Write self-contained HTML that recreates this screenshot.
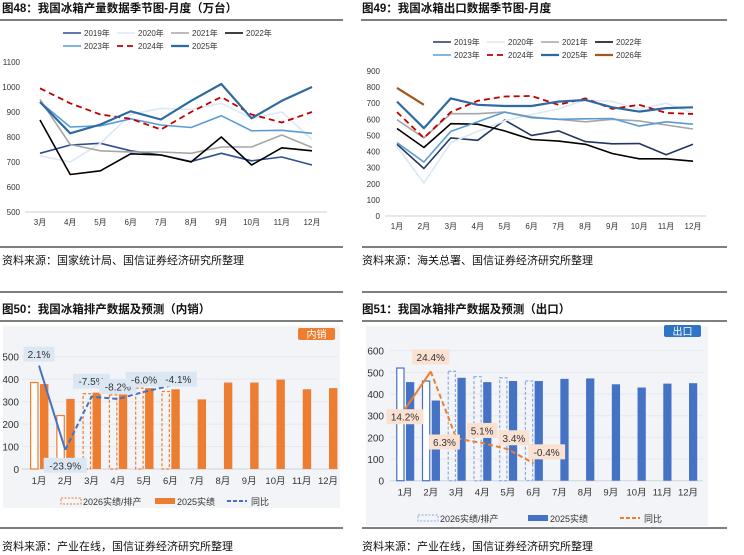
<!DOCTYPE html>
<html><head><meta charset="utf-8"><style>
html,body{margin:0;padding:0;background:#fff;}
svg{display:block;font-family:"Liberation Sans","Noto Sans CJK SC",sans-serif;}
</style></head><body>
<svg id="root" width="744" height="555" viewBox="0 0 744 555" xmlns="http://www.w3.org/2000/svg">
<g>
<text x="2" y="12" font-size="11.5" font-weight="bold" fill="#111">图48：我国冰箱产量数据季节图-月度（万台）</text>
<line x1="0" y1="20" x2="343" y2="20" stroke="#333" stroke-width="1.2"/>
</g>
<g>
<text x="362" y="12" font-size="11.5" font-weight="bold" fill="#111">图49：我国冰箱出口数据季节图-月度</text>
<line x1="361" y1="20" x2="727" y2="20" stroke="#333" stroke-width="1.2"/>
</g>
<line x1="0" y1="247" x2="343" y2="247" stroke="#333" stroke-width="1.2"/>
<line x1="362" y1="247" x2="727" y2="247" stroke="#333" stroke-width="1.2"/>
<text x="2" y="264" font-size="11" fill="#111">资料来源：国家统计局、国信证券经济研究所整理</text>
<text x="362" y="264" font-size="11" fill="#111">资料来源：海关总署、国信证券经济研究所整理</text>
<line x1="0" y1="292" x2="343" y2="292" stroke="#333" stroke-width="1.2"/>
<line x1="362" y1="292" x2="727" y2="292" stroke="#333" stroke-width="1.2"/>
<text x="2" y="313" font-size="11.5" font-weight="bold" fill="#111">图50：我国冰箱排产数据及预测（内销）</text>
<text x="362" y="313" font-size="11.5" font-weight="bold" fill="#111">图51：我国冰箱排产数据及预测（出口）</text>
<line x1="0" y1="321" x2="343" y2="321" stroke="#333" stroke-width="1.2"/>
<line x1="362" y1="321" x2="727" y2="321" stroke="#333" stroke-width="1.2"/>
<rect x="3" y="326" width="337" height="182" fill="#f2f4f8"/>
<rect x="366" y="326" width="342" height="200" fill="#f2f4f8"/>
<line x1="0" y1="528" x2="343" y2="528" stroke="#333" stroke-width="1.2"/>
<line x1="362" y1="528" x2="727" y2="528" stroke="#333" stroke-width="1.2"/>
<text x="2" y="550" font-size="11" fill="#111">资料来源：产业在线，国信证券经济研究所整理</text>
<text x="362" y="550" font-size="11" fill="#111">资料来源：产业在线，国信证券经济研究所整理</text>
<g id="c48"></g>
<g id="c49"></g>
<g id="c50"></g>
<g id="c51"></g>
</svg>
<script>
// ---- chart 48 data ----
const months48 = ["3月","4月","5月","6月","7月","8月","9月","10月","11月","12月"];
const ticks48 = [500,600,700,800,900,1000,1100];
const s48_2019 = [735,768,775,745,728,702,735,705,720,688];
const s48_2020 = [725,700,775,890,915,910,935,875,900,790];
const s48_2021 = [950,770,745,740,740,735,760,760,808,758];
const s48_2022 = [868,650,665,733,728,700,800,688,757,745];
const s48_2023 = [940,840,845,873,848,838,885,825,827,815];
const s48_2024 = [995,935,890,873,830,900,960,890,858,900];
const s48_2025 = [940,815,850,903,870,945,1012,875,945,1000];
// ---- chart 49 data ----
const months49 = ["1月","2月","3月","4月","5月","6月","7月","8月","9月","10月","11月","12月"];
const ticks49 = [0,100,200,300,400,500,600,700,800,900];
const s49_2019 = [445,295,485,470,595,500,528,462,448,450,380,445];
const s49_2020 = [430,205,455,525,590,630,665,720,710,665,700,640];
const s49_2021 = [598,485,635,635,645,615,600,585,600,590,565,540];
const s49_2022 = [543,425,573,570,528,475,465,445,388,355,355,340];
const s49_2023 = [455,335,525,585,645,610,600,603,605,558,585,570];
const s49_2024 = [645,485,645,715,742,745,690,730,665,690,640,633];
const s49_2025 = [710,545,730,690,683,683,710,720,675,648,670,675];
const s49_2026 = [795,690];
// ---- chart 50 data ----
const months50 = months49;
const ticks50 = [0,100,200,300,400,500];
const plan50 = [385,238,335,330,360,345];
const actual50 = [378,312,340,332,360,355,310,385,385,398,355,360];
const yoy50 = [2.1,-23.9,-7.5,-8.2,-6.0,-4.1];
// ---- chart 51 data ----
const ticks51 = [0,100,200,300,400,500,600];
const plan51 = [520,460,505,480,475,460];
const actual51 = [455,370,475,455,460,460,470,472,445,430,448,450];
const yoy51 = [14.2,24.4,6.3,5.1,3.4,-0.4];

const NS="http://www.w3.org/2000/svg";
function mk(parent,tag,attrs,text){const e=document.createElementNS(NS,tag);for(const k in attrs)e.setAttribute(k,attrs[k]);if(text!==undefined)e.textContent=text;parent.appendChild(e);return e;}

function lineChart(g,cfg){
  const {x0,x1,yTop,yBot,vmin,vmax,cats,ticks,series,legend}=cfg;
  const X=i=>x0+(x1-x0)*i/(cats.length-1);
  const Y=v=>yBot-(v-vmin)/(vmax-vmin)*(yBot-yTop);
  ticks.forEach(t=>{const e=mk(g,'text',{x:cfg.yLabX,y:Y(t)+3,'font-size':8,fill:'#333','text-anchor':'end'},t);
    
    });
  const ax=mk(g,'line',{x1:cfg.axL,x2:cfg.axR,y1:yBot,y2:yBot,stroke:'#d0d0d0'});
  
  
  cats.forEach((c,i)=>{const e=mk(g,'text',{x:X(i),y:yBot+13,'font-size':8,fill:'#333','text-anchor':'middle'},c);
    
    });
  series.forEach(s=>{
    const pts=s.data.map((v,i)=>X(i).toFixed(1)+','+Y(v).toFixed(1)).join(' ');
    const p=mk(g,'polyline',{points:pts,fill:'none',stroke:s.color,'stroke-width':s.w,'stroke-dasharray':s.dash||'none','stroke-linejoin':'round'});
    
    
  });
  series.forEach((s,i)=>{
    const pos=legend[i];
    const lg=mk(g,'g',{});
    
    
    mk(lg,'line',{x1:pos[0],x2:pos[0]+18,y1:pos[1],y2:pos[1],stroke:s.color,'stroke-width':s.w,'stroke-dasharray':s.dash||'none'});
    mk(lg,'text',{x:pos[0]+21,y:pos[1]+3,'font-size':8,fill:'#333'},s.label);
  });
}
lineChart(document.getElementById('c48'),{x0:40,x1:312,yTop:62,yBot:212,vmin:500,vmax:1100,cats:months48,ticks:ticks48,yLabX:20,axL:25,axR:327,
 series:[
  {name:'2019',label:'2019年',data:s48_2019,color:'#2e4f8f',w:1.6},
  {name:'2020',label:'2020年',data:s48_2020,color:'#dce8f5',w:1.6},
  {name:'2021',label:'2021年',data:s48_2021,color:'#a6a6a6',w:1.6},
  {name:'2022',label:'2022年',data:s48_2022,color:'#000',w:1.6},
  {name:'2023',label:'2023年',data:s48_2023,color:'#5b9bd5',w:1.6},
  {name:'2024',label:'2024年',data:s48_2024,color:'#c00000',w:1.8,dash:'6,4'},
  {name:'2025',label:'2025年',data:s48_2025,color:'#2e6aa1',w:2.2}],
 legend:[[63,33],[117,33],[171,33],[225,33],[63,46],[117,46],[171,46]]});
lineChart(document.getElementById('c49'),{x0:397,x1:693,yTop:71,yBot:216,vmin:0,vmax:900,cats:months49,ticks:ticks49,yLabX:380,axL:385,axR:706,
 series:[
  {name:'2019',label:'2019年',data:s49_2019,color:'#22385f',w:1.6},
  {name:'2020',label:'2020年',data:s49_2020,color:'#dce8f5',w:1.6},
  {name:'2021',label:'2021年',data:s49_2021,color:'#a6a6a6',w:1.6},
  {name:'2022',label:'2022年',data:s49_2022,color:'#000',w:1.6},
  {name:'2023',label:'2023年',data:s49_2023,color:'#5b9bd5',w:1.6},
  {name:'2024',label:'2024年',data:s49_2024,color:'#c00000',w:1.8,dash:'6,4'},
  {name:'2025',label:'2025年',data:s49_2025,color:'#2e6aa1',w:2.2},
  {name:'2026',label:'2026年',data:s49_2026,color:'#a0581e',w:2.2}],
 legend:[[433,42],[487,42],[541,42],[595,42],[433,55],[487,55],[541,55],[595,55]]});

function barChart(g,cfg){
  const {x0,x1,yTop,yBot,vmax,ticks,plan,actual,yoy,yoyY,main,lab,yoyColor,tag,tagColor}=cfg;
  const step=(x1-x0)/(months50.length-1);
  const X=i=>x0+step*i;
  const Y=v=>yBot-v/vmax*(yBot-yTop);
  ticks.forEach(t=>{
    const gl=mk(g,'line',{x1:cfg.axL,x2:cfg.axR,y1:Y(t),y2:Y(t),stroke:t?'#e6e8ee':'#cfd3dc'});
    
    
    const e=mk(g,'text',{x:cfg.yLabX,y:Y(t)+4,'font-size':10,fill:'#333','text-anchor':'end'},t);
    
    });
  const bw=step*0.32;
  actual.forEach((v,i)=>{const r=mk(g,'rect',{x:X(i)+1,y:Y(v),width:bw,height:yBot-Y(v),fill:main});
    
    });
  plan.forEach((v,i)=>{const r=mk(g,'rect',{x:X(i)-bw,y:Y(v),width:bw-1,height:yBot-Y(v),fill:'#fff','fill-opacity':i<2?1:0,stroke:i<2?main:lab.dashStroke,'stroke-width':1.2,'stroke-dasharray':i<2?'none':'3,2'});
    
    });
  months50.forEach((c,i)=>{const e=mk(g,'text',{x:X(i),y:yBot+15,'font-size':9.5,fill:'#333','text-anchor':'middle'},c);
    
    });
  const pts=yoy.map((v,i)=>[X(i),Y(yoyY(v))]);
  const l1=mk(g,'line',{x1:pts[0][0],y1:pts[0][1],x2:pts[1][0],y2:pts[1][1],stroke:yoyColor,'stroke-width':2});
  
  
  const l2=mk(g,'polyline',{points:pts.slice(1).map(p=>p.join(',')).join(' '),fill:'none',stroke:yoyColor,'stroke-width':2,'stroke-dasharray':'5,3'});
  
  
  yoy.forEach((v,i)=>{
    const o=lab.off[i];
    const t=v.toFixed(1)+'%';
    const lg=mk(g,'g',{});
    
    
    const w=t.length*6.2+6;
    mk(lg,'rect',{x:pts[i][0]+o[0]-w/2,y:pts[i][1]+o[1]-8,width:w,height:15,fill:lab.bg});
    mk(lg,'text',{x:pts[i][0]+o[0],y:pts[i][1]+o[1]+3.5,'font-size':10,fill:'#333','text-anchor':'middle'},t);
  });
  const tg=mk(g,'g',{});
  
  
  mk(tg,'rect',{x:tag[0],y:tag[1],width:37,height:12,rx:2,fill:tagColor});
  mk(tg,'text',{x:tag[0]+18.5,y:tag[1]+10,'font-size':10,fill:'#fff','text-anchor':'middle'},tag[2]);
  const ly=cfg.legY, lx=cfg.legX, d1=cfg.legD[0], d2=cfg.legD[1];
  const le1=mk(g,'g',{});
  
  
  mk(le1,'rect',{x:lx,y:ly-4,width:20,height:6,fill:'none',stroke:lab.dashStroke,'stroke-dasharray':'2,1.5'});
  mk(le1,'text',{x:lx+22,y:ly+3,'font-size':9,fill:'#333'},'2026实绩/排产');
  const le2=mk(g,'g',{});
  
  
  mk(le2,'rect',{x:lx+d1,y:ly-4,width:20,height:6,fill:main});
  mk(le2,'text',{x:lx+d1+22,y:ly+3,'font-size':9,fill:'#333'},'2025实绩');
  const le3=mk(g,'g',{});
  
  
  mk(le3,'line',{x1:lx+d2,x2:lx+d2+20,y1:ly-1,y2:ly-1,stroke:yoyColor,'stroke-width':2,'stroke-dasharray':'4,2'});
  mk(le3,'text',{x:lx+d2+24,y:ly+3,'font-size':9,fill:'#333'},'同比');
}
barChart(document.getElementById('c50'),{x0:39,x1:328,yTop:356.7,yBot:469,vmax:500,ticks:ticks50,plan:plan50,actual:actual50,yoy:yoy50,
  yoyY:v=>430+14.42*v,main:'#ed7d31',yoyColor:'#4472c4',yLabX:19,axL:22,axR:338,tag:[298,328,'内销'],tagColor:'#ed7d31',legX:61,legY:502,legD:[94,166],
  lab:{bg:'#dbe8f4',dashStroke:'#ed7d31',off:[[0,-11],[0,16],[0,-15],[0,-12],[0,-12],[8,-6]]}});
barChart(document.getElementById('c51'),{x0:405,x1:688,yTop:350.7,yBot:480.7,vmax:600,ticks:ticks51,plan:plan51,actual:actual51,yoy:yoy51,
  yoyY:v=>87+17.1*v,main:'#4472c4',yoyColor:'#ed7d31',yLabX:384,axL:390,axR:703,tag:[664,325,'出口'],tagColor:'#2e75c6',legX:418,legY:519,legD:[110,202],
  lab:{bg:'#fbe1d2',dashStroke:'#8faadc',off:[[0,8],[0,-14],[-12,4],[0,-12],[6,-11],[13,-11]]}});
</script>
</body></html>
